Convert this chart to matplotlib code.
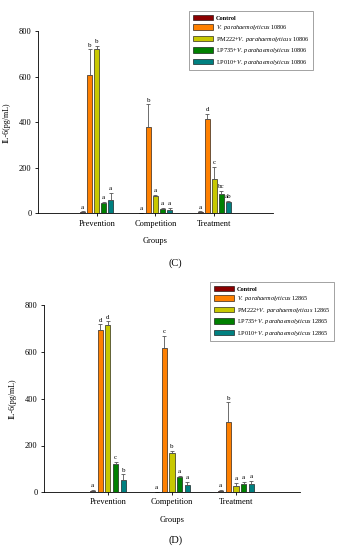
import numpy as np
import matplotlib
matplotlib.use("Agg")
from matplotlib import pyplot as plt

plt.rcParams['font.family'] = ['Liberation Serif', 'DejaVu Serif']
plt.rcParams['mathtext.fontset'] = 'custom'
plt.rcParams['mathtext.rm'] = 'Liberation Serif'
plt.rcParams['mathtext.it'] = 'Liberation Serif:italic'

groups = ['Prevention', 'Competition', 'Treatment']
colors = ['#8b0000', '#ff8000', '#c8c800', '#008000', '#008080']

# panel C, strain 10806
c_vals = [[7, 610, 722, 45, 57],
          [2, 381, 75, 20, 15],
          [7, 414, 150, 85, 50]]
c_err = [[2, 111, 15, 5, 32],
         [1, 98, 5, 3, 8],
         [2, 25, 55, 15, 4]]
c_let = [['a', 'b', 'b', 'a', 'a'],
         ['a', 'b', 'a', 'a', 'a'],
         ['a', 'd', 'c', 'bc', 'ab']]

# panel D, strain 12865
d_vals = [[7, 696, 716, 121, 51],
          [2, 616, 170, 64, 33],
          [7, 299, 28, 37, 37]]
d_err = [[2, 22, 15, 7, 25],
         [1, 52, 5, 4, 12],
         [2, 85, 12, 8, 10]]
d_let = [['a', 'd', 'd', 'c', 'b'],
         ['a', 'c', 'b', 'a', 'a'],
         ['a', 'b', 'a', 'a', 'a']]


def names(strain):
    return ['Control',
            r'$\it{V.\ parahaemolyticus}$ ' + strain,
            r'PM222+$\it{V.\ parahaemolyticus}$ ' + strain,
            r'LP735+$\it{V.\ parahaemolyticus}$ ' + strain,
            r'LP010+$\it{V.\ parahaemolyticus}$ ' + strain]


def panel(ax, vals, err, let, strain, leg_xy):
    vals = np.array(vals)
    err = np.array(err)
    step = 0.12
    w = 0.08
    centers = np.arange(1, 4)
    handles = []
    for j in range(5):
        x = centers + (j - 2) * step
        b = ax.bar(x, vals[:, j], w, color=colors[j], edgecolor='black',
                   linewidth=0.4, label=names(strain)[j])
        ax.errorbar(x, vals[:, j], yerr=[np.zeros(3), err[:, j]], fmt='none',
                    ecolor='#555555', elinewidth=0.6, capsize=1.5, capthick=0.6)
        for i in range(3):
            ax.text(x[i], vals[i, j] + err[i, j] + 8, let[i][j], ha='center',
                    va='bottom', fontsize=5)
        handles.append(b)
    ax.set_xlim(0, 4)
    ax.set_ylim(0, 800)
    ax.set_yticks([0, 200, 400, 600, 800])
    ax.set_xticks(centers)
    ax.set_xticklabels(groups)
    ax.tick_params(labelsize=6, length=2.5, width=0.6, pad=2)
    ax.spines['top'].set_visible(False)
    ax.spines['right'].set_visible(False)
    ax.spines['left'].set_linewidth(0.6)
    ax.spines['bottom'].set_linewidth(0.6)
    ax.set_ylabel('IL-6(pg/mL)', fontsize=5.8, labelpad=6)
    ax.set_xlabel('Groups', fontsize=6, labelpad=7)
    leg = ax.legend(handles=handles, loc='upper left', bbox_to_anchor=leg_xy,
                    bbox_transform=ax.figure.transFigure, fontsize=4.5,
                    fancybox=False, edgecolor='#777777', handlelength=3.2,
                    handleheight=0.9, labelspacing=0.4, borderpad=0.6,
                    handletextpad=0.5)
    leg.get_frame().set_linewidth(0.6)
    leg.get_texts()[0].set_fontweight('bold')


fig = plt.figure(figsize=(3.51, 5.50), dpi=100)
ax1 = fig.add_axes([0.108, 0.612, 0.670, 0.331])
ax2 = fig.add_axes([0.125, 0.105, 0.730, 0.340])

panel(ax1, c_vals, c_err, c_let, '10806', (186 / 351, 1 - 8 / 550))
panel(ax2, d_vals, d_err, d_let, '12865', (207 / 351, 1 - 279 / 550))

fig.text(0.5, 1 - 263 / 550, '(C)', ha='center', va='center', fontsize=7.5)
fig.text(0.5, 1 - 540 / 550, '(D)', ha='center', va='center', fontsize=7.5)

fig.savefig('out.png', dpi=100)
